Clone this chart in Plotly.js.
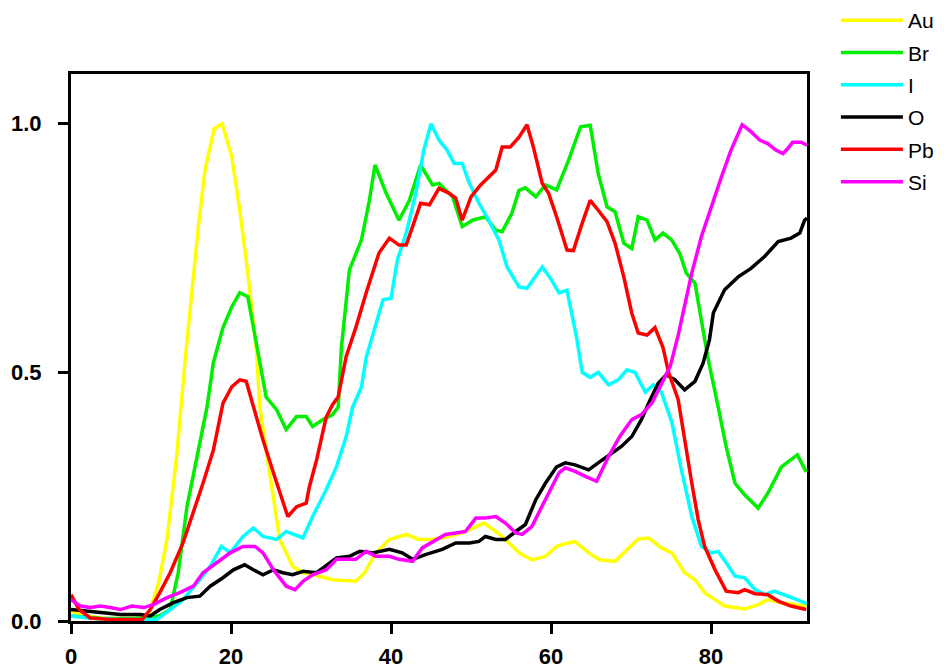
<!DOCTYPE html>
<html>
<head>
<meta charset="utf-8">
<script src="https://cdn.plot.ly/plotly-3.0.1.min.js"></script>
<style>html,body{margin:0;padding:0;background:#fff;}#chart{width:944px;height:668px;}</style>
</head>
<body>
<div id="chart"></div>
<script>
// Series names
const seriesNames = ["Au", "Br", "I", "O", "Pb", "Si"];

// Au
const auX = [0,2,4,6,8,9.7,11,12,13.2,14.3,15.3,15.9,16.75,17.9,18.9,20.1,21.1,22.1,23.2,23.6,24.8,26.1,27.7,29,31.1,32.7,35.6,36.7,38.1,39.8,41.9,43.5,45.1,47.3,49.3,51.6,53.1,54.3,56,57.6,59.3,60.7,61.4,63,64.7,66.1,68,69.3,70.9,72.2,73.8,75.1,76.7,78,79.2,81.7,84.2,85.9,87.1,88.8,91.3,92];
const auY = [0.02,0.01,0.005,0.005,0.005,0.01,0.08,0.164,0.33,0.53,0.69,0.79,0.907,0.99,1.0,0.933,0.826,0.70,0.54,0.43,0.30,0.164,0.11,0.097,0.09,0.083,0.08,0.097,0.137,0.164,0.174,0.164,0.164,0.17,0.18,0.197,0.18,0.164,0.137,0.123,0.13,0.15,0.154,0.16,0.137,0.123,0.12,0.14,0.165,0.167,0.147,0.137,0.097,0.083,0.057,0.03,0.024,0.033,0.043,0.036,0.03,0.03];

// Br
const brX = [0,4,8,11,12.4,13.4,14.5,15.7,17,17.8,19,20.1,21.1,22.1,22.8,23.4,24.4,25.7,26.9,28.2,29.4,30.2,31.5,32.7,33.4,33.8,34.8,36.3,37.3,38,39.4,41,42.3,43.7,45.2,46,47.7,48.9,50.2,51.8,53.1,53.9,55.1,56,56.8,58.1,59.3,60.7,62.2,63.7,64.9,65.9,67,68,69.1,70.1,70.9,72,73,74,75.1,76.1,76.9,78,78.8,79.6,80.9,81.9,83,84.2,85.9,87.1,88.8,90.8,91.9];
const brY = [0.01,0.005,0.005,0.01,0.023,0.097,0.23,0.33,0.43,0.52,0.59,0.632,0.66,0.652,0.59,0.53,0.45,0.425,0.385,0.411,0.411,0.391,0.405,0.415,0.43,0.55,0.706,0.766,0.846,0.917,0.86,0.806,0.846,0.917,0.877,0.88,0.853,0.793,0.806,0.813,0.786,0.783,0.82,0.866,0.871,0.853,0.877,0.867,0.927,0.994,0.997,0.9,0.833,0.823,0.76,0.749,0.813,0.806,0.766,0.78,0.766,0.739,0.70,0.679,0.6,0.53,0.43,0.35,0.277,0.254,0.227,0.257,0.31,0.334,0.30];

// I
const iX = [0,3,6,9,10.7,12.4,14,16.1,17.4,18.8,19.9,21.5,22.8,24,25.7,26.9,29,30.2,31.9,33.2,34.4,35.2,36.3,36.9,38.1,39,40,40.8,41.9,43.1,44.1,45,46,47,47.9,48.9,49.8,51,52.2,53.5,54.5,56,57,58.9,59.9,61,62,62.6,63.2,63.9,64.9,65.9,67.2,68.4,69.5,70.5,71.8,72.8,73.8,75.1,76.3,77.6,78.8,80,80.9,81.9,83,84.2,85.5,86.7,87.9,89.6,91.7,92];
const iY = [0.01,0.005,0.003,0.003,0.003,0.023,0.043,0.083,0.11,0.15,0.137,0.17,0.187,0.17,0.164,0.18,0.167,0.21,0.264,0.311,0.371,0.43,0.47,0.53,0.6,0.646,0.649,0.726,0.78,0.86,0.947,1.0,0.967,0.947,0.92,0.92,0.88,0.84,0.806,0.766,0.712,0.672,0.669,0.712,0.69,0.66,0.665,0.62,0.57,0.5,0.49,0.5,0.475,0.485,0.505,0.5,0.46,0.475,0.46,0.4,0.304,0.21,0.15,0.137,0.14,0.117,0.09,0.087,0.063,0.053,0.06,0.05,0.037,0.035];

// O
const oX = [0,2,4.1,6.2,8.7,9.9,11.1,12.8,14.5,16.1,17.4,19,20.3,21.7,22.8,24,25.3,26.5,27.7,29,30.7,33.2,34.8,36.1,37.7,39.8,41.4,42.7,44.4,46.4,48.1,49.8,51,51.8,53.1,54.3,55.6,56.8,58.1,59.3,60.7,61.8,63,64.7,65.9,67.4,68.8,70.1,71.3,72.4,73.4,74.4,75.5,76.7,78,79,79.8,80.3,81.7,83.4,85,86.7,88.4,90,91.1,91.7,92];
const oY = [0.023,0.02,0.016,0.013,0.013,0.01,0.023,0.037,0.047,0.05,0.07,0.087,0.103,0.113,0.103,0.093,0.103,0.097,0.093,0.1,0.097,0.127,0.13,0.14,0.137,0.144,0.137,0.124,0.134,0.144,0.157,0.157,0.16,0.17,0.164,0.164,0.18,0.194,0.244,0.277,0.31,0.318,0.314,0.304,0.318,0.334,0.351,0.371,0.405,0.445,0.478,0.495,0.485,0.465,0.482,0.518,0.565,0.62,0.666,0.692,0.709,0.733,0.763,0.77,0.78,0.806,0.81];

// Pb
const pbX = [0,1,2.4,5,8.9,9.9,11.1,12.4,14,15.3,16.5,17.8,19,20.1,21.1,21.9,22.8,24,25.3,26.5,27.1,28.2,29.4,29.8,30.7,31.9,32.7,33.4,34.4,35.6,36.9,38.5,39.8,41,41.9,42.7,43.7,44.8,46,47.3,48.1,48.9,50,51.2,52.5,53.1,53.9,54.9,56,57,57.8,58.9,59.7,60.7,62,62.8,63.9,64.9,65.9,67,68,69.1,70.1,70.9,72,73,74,74.7,75.9,76.7,77.6,78.4,79.2,80.5,81.9,83.4,84.2,85.5,87.1,88.4,90,91.9];
const pbY = [0.053,0.023,0.006,0.003,0.003,0.023,0.057,0.097,0.157,0.217,0.277,0.344,0.438,0.471,0.485,0.482,0.431,0.364,0.298,0.237,0.21,0.23,0.237,0.27,0.324,0.41,0.435,0.451,0.532,0.59,0.66,0.74,0.77,0.756,0.756,0.793,0.84,0.837,0.87,0.86,0.85,0.806,0.853,0.877,0.897,0.907,0.953,0.953,0.973,0.998,0.953,0.88,0.86,0.813,0.746,0.745,0.8,0.846,0.826,0.803,0.76,0.692,0.619,0.579,0.575,0.59,0.55,0.5,0.445,0.364,0.277,0.204,0.15,0.103,0.06,0.057,0.063,0.055,0.053,0.04,0.03,0.023];

// Si
const siX = [0,1.2,2.4,3.7,4.9,6.2,7.6,9.1,10.3,12,13.6,15.3,16.5,18.2,19.9,21.5,23,24,25.3,26.9,28,29,30.2,31.9,33.2,35.6,36.9,38.1,39.8,41,42.7,43.9,45.2,46.8,48.1,49.3,50.6,51.8,53.1,54.3,55.6,56.4,57.6,58.9,59.7,61,61.8,63,64.3,65.7,67.2,68.6,70.1,71.3,72.6,73.8,74.9,75.9,76.6,77.6,78.8,80,81.3,82.5,83.9,85,86.1,87.1,88.1,89,89.6,90.2,91.3,92];
const siY = [0.043,0.03,0.027,0.03,0.027,0.023,0.03,0.027,0.033,0.047,0.057,0.07,0.097,0.117,0.137,0.15,0.15,0.137,0.103,0.07,0.063,0.08,0.093,0.103,0.124,0.124,0.14,0.13,0.13,0.124,0.12,0.147,0.16,0.174,0.177,0.18,0.207,0.207,0.21,0.197,0.177,0.174,0.19,0.23,0.257,0.298,0.308,0.301,0.291,0.281,0.331,0.371,0.405,0.415,0.438,0.478,0.512,0.575,0.63,0.70,0.773,0.833,0.893,0.947,0.998,0.984,0.967,0.96,0.947,0.94,0.95,0.963,0.963,0.957];

// Axis ticks
const xTickVals = [0, 20, 40, 60, 80];
const yTickVals = [0, 0.5, 1.0];
const yTickText = ["0.0", "0.5", "1.0"];

const seriesX = [auX, brX, iX, oX, pbX, siX];
const seriesY = [auY, brY, iY, oY, pbY, siY];
const colors = ["#ffff00", "#00ee00", "#00ffff", "#000000", "#ff0000", "#ff00ff"];

const traces = seriesNames.map((n, k) => ({
  type: "scatter",
  mode: "lines",
  name: n,
  legendgroup: n,
  x: seriesX[k],
  y: seriesY[k],
  line: {color: colors[k], width: 3.5},
  hoverinfo: "skip"
}));

const tickFont = {family: "Liberation Sans, Arial, sans-serif", size: 22, color: "#000", weight: "bold"};

const layout = {
  width: 944,
  height: 668,
  margin: {l: 71, r: 137, t: 74, b: 47, pad: 0, autoexpand: false},
  paper_bgcolor: "#fff",
  plot_bgcolor: "#fff",
  showlegend: true,
  legend: {
    xref: "container", yref: "container",
    x: 0.8855, xanchor: "left",
    y: 1.0, yanchor: "top",
    font: {family: "Liberation Sans, Arial, sans-serif", size: 21, color: "#000"},
    itemwidth: 62,
    tracegroupgap: 2,
    bgcolor: "rgba(0,0,0,0)"
  },
  xaxis: {
    range: [0, 92],
    tickvals: xTickVals,
    ticks: "outside",
    ticklen: 10,
    tickwidth: 3,
    tickcolor: "#000",
    showline: true,
    linewidth: 3,
    linecolor: "#000",
    mirror: true,
    showgrid: false,
    zeroline: false,
    automargin: false,
    tickfont: tickFont,
    ticklabelstandoff: 4
  },
  yaxis: {
    range: [0, 1.1],
    tickvals: yTickVals,
    ticktext: yTickText,
    ticks: "outside",
    ticklen: 10,
    tickwidth: 3,
    tickcolor: "#000",
    showline: true,
    linewidth: 3,
    linecolor: "#000",
    mirror: true,
    showgrid: false,
    zeroline: false,
    automargin: false,
    tickfont: tickFont,
    ticklabelstandoff: 12
  }
};

Plotly.newPlot("chart", traces, layout, {displayModeBar: false, staticPlot: true});
</script>
</body>
</html>
